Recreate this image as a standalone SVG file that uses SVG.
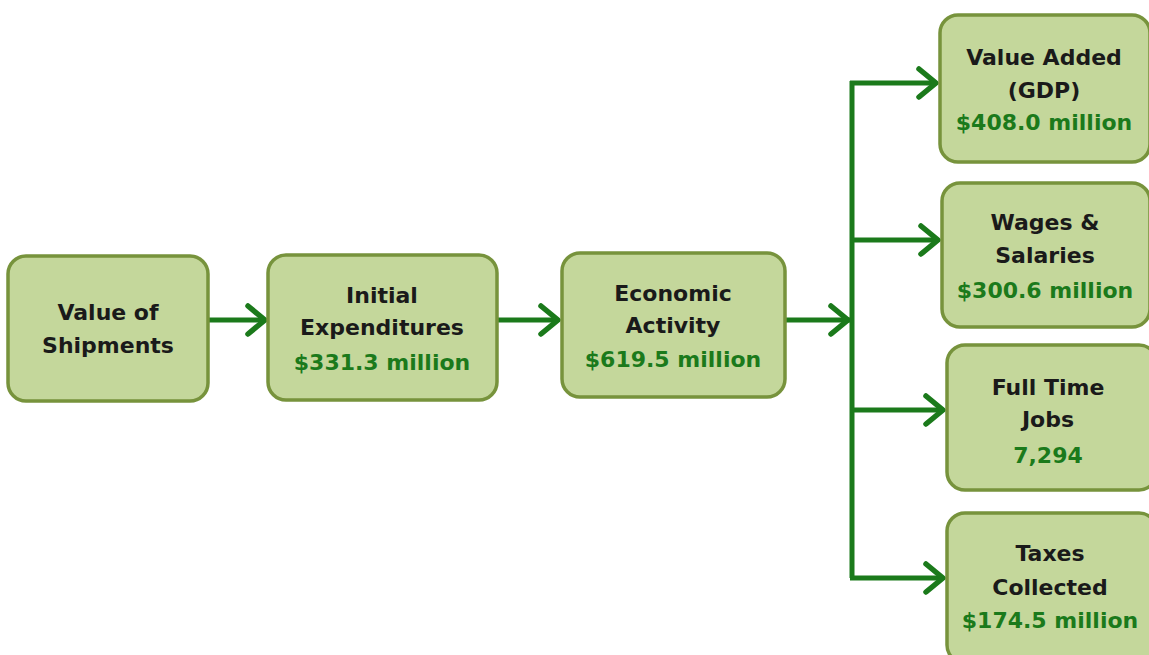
<svg xmlns="http://www.w3.org/2000/svg" width="1149" height="655" viewBox="0 0 1149 655">
<defs>
<style>
.box{fill:#c4d79b;stroke:#77933c;stroke-width:3.5}
.t{font-family:"DejaVu Sans","Liberation Sans",sans-serif;font-weight:bold;font-size:22px;fill:#1a1a1a;text-anchor:middle}
.v{fill:#1b7a1b}
.c{fill:none;stroke:#1b7a1b;stroke-width:5}
.h{fill:none;stroke:#1b7a1b;stroke-width:5.5;stroke-linecap:round;stroke-linejoin:round}
</style>
</defs>
<rect width="1149" height="655" fill="#ffffff"/>
<g id="connectors">
<path class="c" d="M208,320 H264"/>
<path class="h" d="M248,306 L265,320 L248,334"/>
<path class="c" d="M497,320 H558"/>
<path class="h" d="M541,306 L558,320 L541,334"/>
<path class="c" d="M785,320 H850"/>
<path class="h" d="M831,306 L848,320 L831,334"/>
<path class="c" d="M852,81 V578"/>
<path class="c" d="M850,83 H936"/>
<path class="h" d="M919,69 L936,83 L919,97"/>
<path class="c" d="M850,240 H938"/>
<path class="h" d="M921,226 L938,240 L921,254"/>
<path class="c" d="M850,410 H943"/>
<path class="h" d="M926,396 L943,410 L926,424"/>
<path class="c" d="M850,578 H943"/>
<path class="h" d="M926,564 L943,578 L926,592"/>
</g>
<g id="n1">
<rect class="box" x="8" y="256" width="200" height="145" rx="18"/>
<text class="t" x="108" y="320">Value of</text>
<text class="t" x="108" y="353">Shipments</text>
</g>
<g id="n2">
<rect class="box" x="268" y="255" width="229" height="145" rx="18"/>
<text class="t" x="382" y="303">Initial</text>
<text class="t" x="382" y="335">Expenditures</text>
<text class="t v" x="382" y="370">$331.3 million</text>
</g>
<g id="n3">
<rect class="box" x="562" y="253" width="223" height="144" rx="18"/>
<text class="t" x="673" y="301">Economic</text>
<text class="t" x="673" y="333">Activity</text>
<text class="t v" x="673" y="367">$619.5 million</text>
</g>
<g id="n4">
<rect class="box" x="940" y="15" width="210" height="147" rx="18"/>
<text class="t" x="1044" y="65">Value Added</text>
<text class="t" x="1044" y="98">(GDP)</text>
<text class="t v" x="1044" y="130">$408.0 million</text>
</g>
<g id="n5">
<rect class="box" x="942" y="183" width="208" height="144" rx="18"/>
<text class="t" x="1045" y="230">Wages &amp;</text>
<text class="t" x="1045" y="263">Salaries</text>
<text class="t v" x="1045" y="298">$300.6 million</text>
</g>
<g id="n6">
<rect class="box" x="947" y="345" width="210" height="145" rx="18"/>
<text class="t" x="1048" y="395">Full Time</text>
<text class="t" x="1048" y="427">Jobs</text>
<text class="t v" x="1048" y="463">7,294</text>
</g>
<g id="n7">
<rect class="box" x="947" y="513" width="210" height="150" rx="18"/>
<text class="t" x="1050" y="561">Taxes</text>
<text class="t" x="1050" y="595">Collected</text>
<text class="t v" x="1050" y="628">$174.5 million</text>
</g>
</svg>
